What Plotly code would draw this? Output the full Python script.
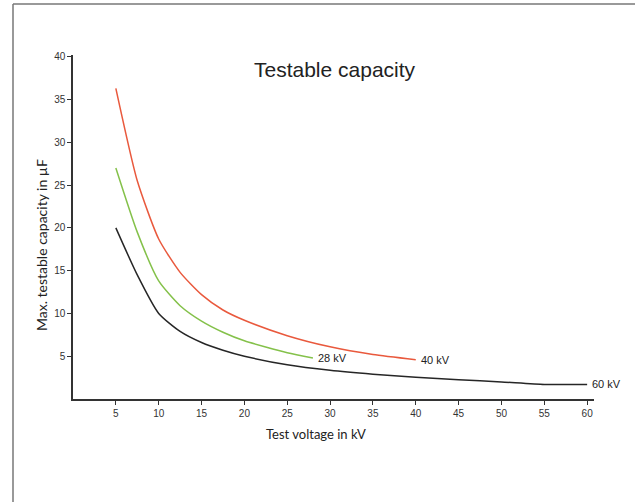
import plotly.graph_objects as go

# Data
v_40 = [5, 7.5, 10, 12.5, 15, 17.5, 20, 25, 30, 35, 40]
c_40 = [36.3, 25.5, 18.7, 14.8, 12.2, 10.4, 9.2, 7.4, 6.1, 5.2, 4.6]

v_28 = [5, 7.5, 10, 12.5, 15, 17.5, 20, 25, 28]
c_28 = [27.0, 19.5, 13.8, 10.9, 9.1, 7.8, 6.8, 5.4, 4.8]

v_60 = [5, 7.5, 10, 12.5, 15, 17.5, 20, 25, 30, 35, 40, 45, 50, 55, 60]
c_60 = [20.0, 14.5, 10.0, 7.9, 6.6, 5.7, 5.0, 4.0, 3.35, 2.9, 2.55, 2.25, 2.0, 1.7, 1.7]

x_ticks = [5, 10, 15, 20, 25, 30, 35, 40, 45, 50, 55, 60]
y_ticks = [5, 10, 15, 20, 25, 30, 35, 40]

end_labels = ["40 kV", "28 kV", "60 kV"]

fig = go.Figure()
series = [(v_40, c_40, "#e9593d"), (v_28, c_28, "#84c14a"), (v_60, c_60, "#262626")]
for (xs, ys, col), lab in zip(series, end_labels):
    fig.add_trace(go.Scatter(x=xs, y=ys, mode="lines",
                             line=dict(color=col, width=1.5, shape="spline", smoothing=0.6),
                             showlegend=False, hoverinfo="skip"))
    fig.add_annotation(x=xs[-1], y=ys[-1], text=lab, showarrow=False,
                       xanchor="left", yanchor="middle", xshift=3,
                       font=dict(family="Liberation Sans, Arial", size=11, color="#222"))

axis_common = dict(showline=True, linecolor="#333", linewidth=1.5, ticks="outside",
                   ticklen=4, tickwidth=1.2, tickcolor="#333", showgrid=False, zeroline=False,
                   tickfont=dict(family="Liberation Sans, Arial", size=10, color="#333"))

fig.update_layout(
    width=635, height=502,
    margin=dict(l=73, r=41, t=55, b=103),
    paper_bgcolor="white", plot_bgcolor="white",
    xaxis=dict(range=[0, 60.8], tickvals=x_ticks, ticktext=[str(t) for t in x_ticks], **axis_common),
    yaxis=dict(range=[0, 40.2], tickvals=y_ticks, ticktext=[str(t) for t in y_ticks], **axis_common),
)

fig.add_annotation(xref="paper", yref="paper", x=(335 - 73) / 521, y=(399 - 70) / 344,
                   text="Testable capacity", showarrow=False, xanchor="center", yanchor="middle",
                   font=dict(family="Liberation Sans, Arial", size=21, color="#222"))
fig.add_annotation(xref="paper", yref="paper", x=(316 - 73) / 521, y=(399 - 434) / 344,
                   text="Test voltage in kV", showarrow=False, xanchor="center", yanchor="middle",
                   font=dict(family="Lato, Liberation Sans", size=13, color="#222"))
fig.add_annotation(xref="paper", yref="paper", x=(41 - 73) / 521, y=(399 - 245) / 344,
                   text="Max. testable capacity in µF", showarrow=False, textangle=-90,
                   xanchor="center", yanchor="middle",
                   font=dict(family="Lato, Liberation Sans", size=14, color="#222"))

# frame lines (top and left) of the surrounding box
fig.add_shape(type="line", xref="paper", yref="paper",
              x0=(13 - 73) / 521, x1=(640 - 73) / 521, y0=(399 - 4) / 344, y1=(399 - 4) / 344,
              line=dict(color="#777", width=1.5))
fig.add_shape(type="line", xref="paper", yref="paper",
              x0=(13 - 73) / 521, x1=(13 - 73) / 521, y0=(399 - 4) / 344, y1=(399 - 505) / 344,
              line=dict(color="#777", width=1.5))

fig.write_html("out.html", config={"displayModeBar": False},
               post_script="document.body.style.margin='0';")
